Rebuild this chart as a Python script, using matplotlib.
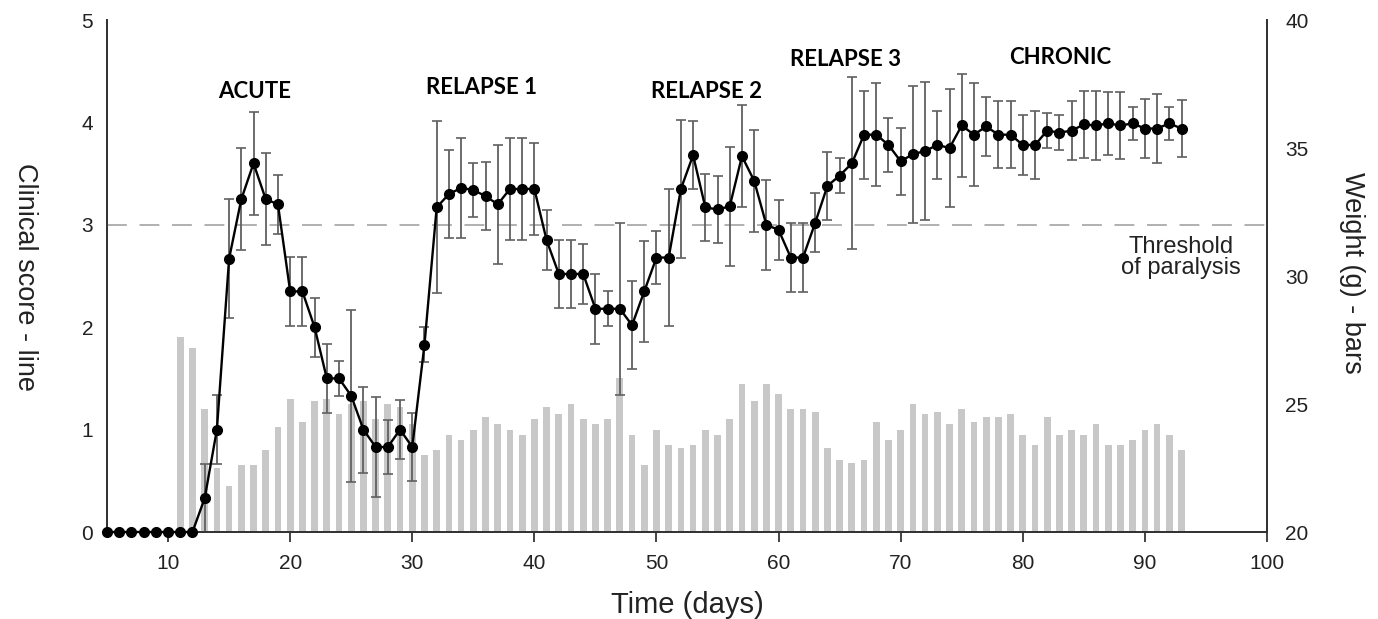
import matplotlib
matplotlib.use("Agg")
import matplotlib.pyplot as plt
import numpy as np

# clinical score (line), days 5..93
score_days = list(range(5, 94))
score = [0, 0, 0, 0, 0, 0, 0, 0,
         0.33, 1.0, 2.67, 3.25, 3.6, 3.25, 3.2, 2.35, 2.35, 2.0, 1.5, 1.5,
         1.33, 1.0, 0.83, 0.83, 1.0, 0.83, 1.83, 3.17, 3.3, 3.36,
         3.34, 3.28, 3.2, 3.35, 3.35, 3.35, 2.85, 2.52, 2.52, 2.52,
         2.18, 2.18, 2.18, 2.02, 2.35, 2.68, 2.68, 3.35, 3.68, 3.17,
         3.15, 3.18, 3.67, 3.43, 3.0, 2.95, 2.68, 2.68, 3.02, 3.38,
         3.48, 3.6, 3.88, 3.88, 3.78, 3.62, 3.69, 3.72, 3.78, 3.75,
         3.97, 3.88, 3.96, 3.88, 3.88, 3.78, 3.78, 3.92, 3.9, 3.92,
         3.98, 3.97, 3.99, 3.97, 3.99, 3.94, 3.94, 3.99, 3.94]
score_err = [0, 0, 0, 0, 0, 0, 0, 0,
             0.33, 0.34, 0.58, 0.5, 0.5, 0.45, 0.29, 0.34, 0.34, 0.29, 0.34, 0.17,
             0.84, 0.42, 0.49, 0.26, 0.29, 0.33, 0.17, 0.84, 0.43, 0.49,
             0.26, 0.33, 0.58, 0.5, 0.5, 0.45, 0.29, 0.33, 0.33, 0.29,
             0.34, 0.17, 0.84, 0.43, 0.49, 0.26, 0.67, 0.67, 0.33, 0.33,
             0.33, 0.58, 0.5, 0.5, 0.44, 0.29, 0.34, 0.34, 0.29, 0.33,
             0.17, 0.84, 0.43, 0.5, 0.26, 0.33, 0.67, 0.67, 0.33, 0.58,
             0.5, 0.5, 0.29, 0.33, 0.33, 0.29, 0.33, 0.17, 0.17, 0.29,
             0.33, 0.34, 0.31, 0.33, 0.16, 0.29, 0.34, 0.16, 0.28]

# body weight (bars), days 11..93
weight_days = list(range(11, 94))
weight = [27.6, 27.2, 24.8, 22.5, 21.8, 22.6, 22.6, 23.2, 24.1, 25.2,
          24.3, 25.1, 25.2, 24.6, 25.0, 25.1, 24.4, 25.0, 24.9, 24.2,
          23.0, 23.2, 23.8, 23.6, 24.0, 24.5, 24.2, 24.0, 23.8, 24.4,
          24.9, 24.6, 25.0, 24.4, 24.2, 24.4, 26.0, 23.8, 22.6, 24.0,
          23.4, 23.3, 23.4, 24.0, 23.8, 24.4, 25.8, 25.1, 25.8, 25.4,
          24.8, 24.8, 24.7, 23.3, 22.8, 22.7, 22.8, 24.3, 23.6, 24.0,
          25.0, 24.6, 24.7, 24.2, 24.8, 24.3, 24.5, 24.5, 24.6, 23.8,
          23.4, 24.5, 23.8, 24.0, 23.8, 24.2, 23.4, 23.4, 23.6, 24.0,
          24.2, 23.8, 23.2]

phase_labels = ["ACUTE", "RELAPSE 1", "RELAPSE 2", "RELAPSE 3", "CHRONIC"]
phase_x = [17.1, 35.7, 54.1, 65.5, 83.1]
phase_y = [4.30, 4.34, 4.30, 4.61, 4.63]

threshold = 3

plt.rcParams['font.family'] = ['Liberation Sans', 'DejaVu Sans']

fig = plt.figure(figsize=(13.78, 6.19), dpi=100)
ax = fig.add_axes([107/1378, 1 - 532/619, 1160/1378, 512/619])
ax2 = ax.twinx()

# bars on the weight axis, behind the line
ax2.bar(weight_days, weight, width=0.55, bottom=0, color='#c8c8c8', zorder=1)
ax2.set_ylim(20, 40)
ax2.set_yticks([20, 25, 30, 35, 40])

ax.set_zorder(ax2.get_zorder() + 1)
ax.patch.set_visible(False)

ax.axhline(threshold, color='#aaaaaa', lw=1.3, dashes=(11, 7), zorder=1)
ax.errorbar(score_days, score, yerr=score_err, fmt='none', ecolor='#606060',
            elinewidth=1.3, capsize=3.5, capthick=1.2, zorder=2)
ax.plot(score_days, score, color='black', lw=1.7, marker='o', ms=7,
        clip_on=False, zorder=3)

ax.set_xlim(5, 100)
ax.set_ylim(0, 5)
ax.set_xticks(range(10, 101, 10))
ax.set_yticks(range(0, 6))

for a in (ax, ax2):
    a.spines['top'].set_visible(False)
    for s in ('left', 'right', 'bottom'):
        a.spines[s].set_linewidth(1.3)
        a.spines[s].set_color('#333333')

ax.tick_params(axis='x', direction='out', length=7, width=1.2, pad=9,
               labelsize=15, colors='#222222')
ax.tick_params(axis='y', length=0, pad=10, labelsize=15, labelcolor='#222222')
ax2.tick_params(axis='y', length=0, pad=13, labelsize=15, labelcolor='#222222')

for t, x, y in zip(phase_labels, phase_x, phase_y):
    ax.text(x, y, t, ha='center', va='center', fontsize=16,
            fontweight='bold', family=['Lato', 'DejaVu Sans'], color='black')

ax.text(92.95, 2.89, "Threshold\nof paralysis", ha='center', va='top',
        multialignment='center', fontsize=17, color='#222222',
        linespacing=0.95)

fig.text(25/1378, 1 - 277/619, "Clinical score - line", rotation=270,
         ha='center', va='center', fontsize=19.5, color='#222222')
fig.text(1352/1378, 1 - 273/619, "Weight (g) - bars", rotation=270,
         ha='center', va='center', fontsize=19.5, color='#222222')
fig.text(687/1378, 1 - 605/619, "Time (days)", ha='center', va='center',
         fontsize=21, color='#222222')

fig.savefig("out.png", dpi=100)
